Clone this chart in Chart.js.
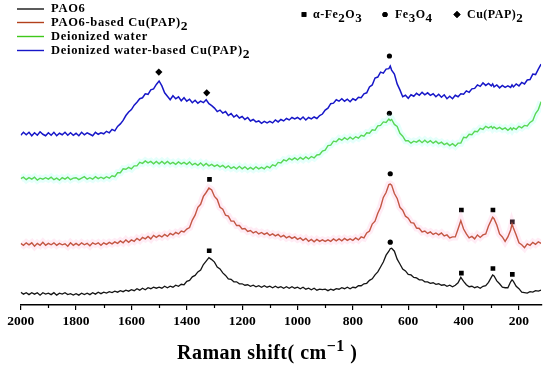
<!DOCTYPE html>
<html><head><meta charset="utf-8">
<script src="https://cdn.jsdelivr.net/npm/chart.js@4/dist/chart.umd.min.js"></script>
<style>html,body{margin:0;padding:0;background:#fff}canvas{display:block}</style>
</head><body>
<canvas id="c" width="550" height="368"></canvas>
<script>
// Raman shift grid (cm^-1)
const shifts = [
2000,1990,1980,1970,1960,1950,1940,1930,1920,1910,
1900,1890,1880,1870,1860,1850,1840,1830,1820,1810,
1800,1790,1780,1770,1760,1750,1740,1730,1720,1710,
1700,1690,1680,1670,1660,1650,1640,1630,1620,1610,
1600,1590,1580,1570,1560,1550,1540,1530,1520,1510,
1500,1490,1480,1470,1460,1450,1440,1430,1420,1410,
1400,1390,1380,1370,1360,1350,1340,1330,1320,1310,
1300,1290,1280,1270,1260,1250,1240,1230,1220,1210,
1200,1190,1180,1170,1160,1150,1140,1130,1120,1110,
1100,1090,1080,1070,1060,1050,1040,1030,1020,1010,
1000,990,980,970,960,950,940,930,920,910,
900,890,880,870,860,850,840,830,820,810,
800,790,780,770,760,750,740,730,720,710,
700,690,680,670,665,660,650,640,630,620,610,
600,590,580,570,560,550,540,530,520,510,
500,490,480,470,460,450,440,430,420,410,
400,390,380,370,360,350,340,330,320,310,
300,295,290,280,270,260,250,240,230,225,220,210,
200,190,180,170,160,150,140,130,120];

// Intensities (arbitrary units, offset-stacked as in the figure)
const pao6 = [
13,11,12.5,10.5,12.5,11,12.5,10,12.5,11,
12,10.5,12.5,10,12,11,12.5,10.5,11.5,10,
11.5,10,12,10.5,12,10.5,12.5,11,13,11.5,
13,12,13.5,12.5,14,13,14.5,13.5,15,14,
15.5,14.5,16.5,15,17,15.5,17.5,16.5,18,17,
18,17,19,17.5,19,18,20,19,21,20.5,
24,25,28.5,30,33.5,35.5,41,44.5,48,46,
43.5,38.5,36.5,32.5,30,26.5,26,23.5,23.5,21.5,
21.5,20,20.5,19,20,18.5,19.5,18,19.5,18,
19,17.5,19,17.5,18.5,17,18.5,17,18.5,17,
18,16.5,18,16,17,15.5,17,15,16,15.5,
16,14.5,16,15,16.5,16,17.5,16.5,18,16.5,
18,17.5,19.5,19.5,21.5,22,25,26.5,30.5,33.5,
38.5,43.5,50.5,54.5,57,57.5,54.5,46.5,41.5,36.5,34.5,
31,30.5,28,27.5,25.5,25.5,23.5,23.5,22,22.5,
21,21.5,20,20.5,19,20,18.5,20,22.5,28,
24,20.5,18.5,19,17.5,18.5,17,19,19.5,23,
28,30.5,29.5,24.5,21.5,18,17.5,17.5,23.5,25.5,24,19,
16.5,13,12.5,12,13.5,13,14.5,14,15];

const pao6Cu = [
62.5,60.5,63,61,63,59.5,62.5,60.5,63.5,60.5,
62.5,61,63,60.5,62.5,61,62,59.5,63,60.5,
62.5,60.5,63,61,62.5,60,63,61.5,63,60.5,
63,61.5,63.5,62,64,62.5,65,63,66,63.5,
66,64.5,67.5,65.5,68.5,67,69.5,67,70.5,68.5,
70.5,69,71.5,69.5,72.5,71,73.5,72,75,74,
77,78.5,86,91,99,102,110,114,118.5,116.5,
110,107,99,97,91,90,85,85,80.5,80.5,
77,77.5,74.5,75.5,73,74.5,72,73.5,71.5,73,
70.5,72,70,71.5,69,70.5,68,69.5,67.5,69,
66.5,68,65.5,67.5,64.5,66.5,64,66.5,64.5,66,
64.5,66,64.5,67,65,67,65,67.5,65.5,67,
65.5,68,66,69,68,73,75,82,85,93,
99,109,114,122,122.5,121.5,113,108,99,96,90,
88,83.5,83,78,77.5,74,75,72.5,74,71.5,
73,71,73,70,71,68,69,69,77,85.5,
77,72,68,69.5,67,71,68.5,71,72,80,
86,89,87.5,81,72,69,64.5,69,76,82,78,71,
63,61,58,62,60.5,63.5,61.5,64,62.5];

const water = [
128,129.5,127,129,127.5,129.5,126.5,128.5,127.5,129,
127.5,129.5,127,128.5,126.5,129,127.5,129.5,127,128.5,
129,127,128.5,130,127.5,129,127.5,130,128,129.5,
128,130,128.5,131,130,134,134,138,137.5,139.5,
138,141,141,144.5,143.5,146,144,145.5,143,145.5,
143,145.5,143,145.5,143,144.5,142.5,145,143,144.5,
142.5,145,142,143.5,141.5,144,141,143.5,141,142.5,
140.5,142,140,141.5,139,141,138.5,140,138,140.5,
138,140,137.5,139.5,137.5,140,138,139.5,138,140.5,
139,142,141,144.5,144,147,146,148.5,147,149,
147,149.5,147.5,150,148,150.5,149,152,152.5,156,
157,161.5,162,166,165.5,168.5,167,169.5,167.5,170,
168,170.5,169,172,171,174.5,174,177.5,177,181.5,
182,185.5,185,188.5,187,188,183,181,174,171,166.5,
166.5,164,166,165,167,164.5,167,164.5,166.5,164,
166,163.5,165,162.5,164,161.5,163.5,161,164,164,
170,169.5,173,172.5,176,175.5,179,178,181,179.5,
181,179,180.5,178.5,180,178,179.5,177,179.5,177.5,179.5,178,
181,179.5,182,181.5,185,187,194,198,206];

const waterCu = [
172,175,172.5,175,171.5,174.5,172,175.5,173,171.5,
174.5,172,175,171.5,174,172.5,175,172,174.5,172,
174,171.5,175,172.5,174.5,173,171.5,175,173,174.5,
173.5,176,174.5,178,176.5,181,183.5,187,192,195.5,
198,202.5,205.5,209,210,214,213.5,218,219,223.5,
227,222,215,211.5,208,212,209,211,207,210,
206.5,208.5,205,207.5,204.5,206.5,205,208,204,202,
199.5,196,197.5,194.5,196,192,194,190.5,192.5,189.5,
191,188,190,186.5,188,185.5,186.5,184,186,184.5,
186,184.5,187.5,185.5,188,186.5,189,187.5,190,188.5,
190,188,190.5,187.5,190,188.5,190.5,189,192,193.5,
197.5,199.5,204,204.5,208,206.5,209,206.5,208.5,206,
209,207.5,210.5,210,214,215,221,223,230,231,
236,235,239,239.5,242,238,234,224,218,211,212.5,
209.5,213,211.5,214.5,212.5,215.5,213,215,212.5,214,
211,213.5,210.5,213,209,211.5,209,212.5,211,214,
213.5,217,215.5,219,219.5,223,221.5,225,222.5,224.5,
222,224,221,223,220,222.5,220.5,222,220.5,223,221,224,
222,225.5,224,228,228.5,234,233.5,239,244];

// Peak assignment markers [shift, height]
const hematiteMarks = [[1318,127.3],[408,96.3],[294,96.3],[224,84.3],[1319,55],[408,32.3],[294,37],[224,31]];
const magnetiteMarks = [[668,252.3],[668,194.3],[665,133],[665,63.7]];
const cuPapMarks = [[1501,236],[1328,215]];

const xTickMinor = [1900,1700,1500,1300,1100,900,700,500,300];

const seriesNames = ['PAO6','PAO6-based Cu(PAP)2','Deionized water','Deionized water-based Cu(PAP)2'];
const seriesColors = ['#151515','#b2401c','#3fc81a','#1717c8'];

const toXY = arr => shifts.map((s,i)=>({x:s,y:arr[i]}));
const toPts = arr => arr.map(p=>({x:p[0],y:p[1]}));

const lineDs = (data,color,w) => ({type:'line',data:toXY(data),borderColor:color,borderWidth:w,pointRadius:0,tension:0,fill:false});

const datasets = [
  lineDs(pao6Cu,'rgba(255,170,210,0.22)',7),
  lineDs(water,'rgba(160,255,240,0.28)',7),
  lineDs(pao6,seriesColors[0],1.3),
  lineDs(pao6Cu,seriesColors[1],1.4),
  lineDs(water,seriesColors[2],1.4),
  lineDs(waterCu,seriesColors[3],1.5),
  {type:'scatter',data:toPts(hematiteMarks),pointStyle:'rect',pointRadius:3.3,backgroundColor:'#000',borderColor:'#000',borderWidth:0},
  {type:'scatter',data:toPts(magnetiteMarks),pointStyle:'circle',pointRadius:2.6,backgroundColor:'#000',borderColor:'#000',borderWidth:0},
  {type:'scatter',data:toPts(cuPapMarks),pointStyle:'rectRot',pointRadius:3.6,backgroundColor:'#000',borderColor:'#000',borderWidth:0}
];

const SERIF = '"Liberation Serif","Times New Roman",serif';

function drawRich(ctx, parts, x, y, size){
  let cx = x;
  parts.forEach(p=>{
    const fs = p.sub ? size+1 : (p.sup ? size-4 : size);
    ctx.font = 'bold '+fs+'px '+SERIF;
    const dy = p.sub ? 4 : (p.sup ? -(size*0.42) : 0);
    ctx.fillText(p.t, cx, y+dy);
    cx += ctx.measureText(p.t).width;
  });
  return cx;
}

const annot = {
  id:'annot',
  afterDraw(chart){
    const ctx = chart.ctx, xs = chart.scales.x, area = chart.chartArea;
    ctx.save();
    ctx.strokeStyle = '#000'; ctx.lineWidth = 1.2;
    xTickMinor.forEach(v=>{
      const px = Math.round(xs.getPixelForValue(v))+0.5;
      ctx.beginPath(); ctx.moveTo(px, area.bottom); ctx.lineTo(px, area.bottom+3); ctx.stroke();
    });
    ctx.fillStyle = '#000';
    ctx.textBaseline = 'middle';
    ctx.textAlign = 'left';
    try { ctx.letterSpacing = '0.7px'; } catch(e){}
    const legParts = [
      [{t:'PAO6'}],
      [{t:'PAO6-based Cu(PAP)'},{t:'2',sub:true}],
      [{t:'Deionized water'}],
      [{t:'Deionized water-based Cu(PAP)'},{t:'2',sub:true}]
    ];
    const legY = [9,22.5,36.5,50.5];
    legParts.forEach((parts,i)=>{
      ctx.strokeStyle = seriesColors[i]; ctx.lineWidth = 1.4;
      ctx.beginPath(); ctx.moveTo(17, legY[i]); ctx.lineTo(44, legY[i]); ctx.stroke();
      drawRich(ctx, parts, 51, legY[i], 12.5);
    });
    try { ctx.letterSpacing = '0.5px'; } catch(e){}
    const my = 14.5;
    const h = Chart.helpers;
    h.drawPoint(ctx,{pointStyle:'rect',radius:3.3,borderWidth:0},304,my);
    ctx.fill();
    drawRich(ctx,[{t:'\u03b1-Fe'},{t:'2',sub:true},{t:'O'},{t:'3',sub:true}],313,my,12);
    h.drawPoint(ctx,{pointStyle:'circle',radius:2.6,borderWidth:0},385,my);
    ctx.fill();
    drawRich(ctx,[{t:'Fe'},{t:'3',sub:true},{t:'O'},{t:'4',sub:true}],395,my,12);
    h.drawPoint(ctx,{pointStyle:'rectRot',radius:3.6,borderWidth:0},457,my);
    ctx.fill();
    drawRich(ctx,[{t:'Cu(PAP)'},{t:'2',sub:true}],467,my,12);
    ctx.textBaseline = 'alphabetic';
    drawRich(ctx,[{t:'Raman shift( cm'},{t:'\u22121',sup:true},{t:' )'}],177,359,20);
    ctx.restore();
  }
};

new Chart(document.getElementById('c'),{
  data:{datasets},
  options:{
    responsive:false,
    animation:false,
    devicePixelRatio:1,
    layout:{padding:{left:20.7,right:8.9,top:0,bottom:0}},
    plugins:{legend:{display:false},tooltip:{enabled:false},title:{display:false}},
    scales:{
      x:{
        type:'linear',reverse:true,min:120,max:2000,
        ticks:{stepSize:200,includeBounds:false,color:'#000',padding:3,maxRotation:0,autoSkip:false,
          callback:v=>String(v),
          font:{family:SERIF,size:13.5,weight:'bold'}},
        grid:{display:true,drawOnChartArea:false,drawTicks:true,tickLength:5,color:'#000',lineWidth:1.2},
        border:{display:true,color:'#000',width:1.5},
        afterFit(scale){ scale.height = 63; }
      },
      y:{type:'linear',display:false,min:0,max:305}
    }
  },
  plugins:[annot]
});
</script>
</body></html>
